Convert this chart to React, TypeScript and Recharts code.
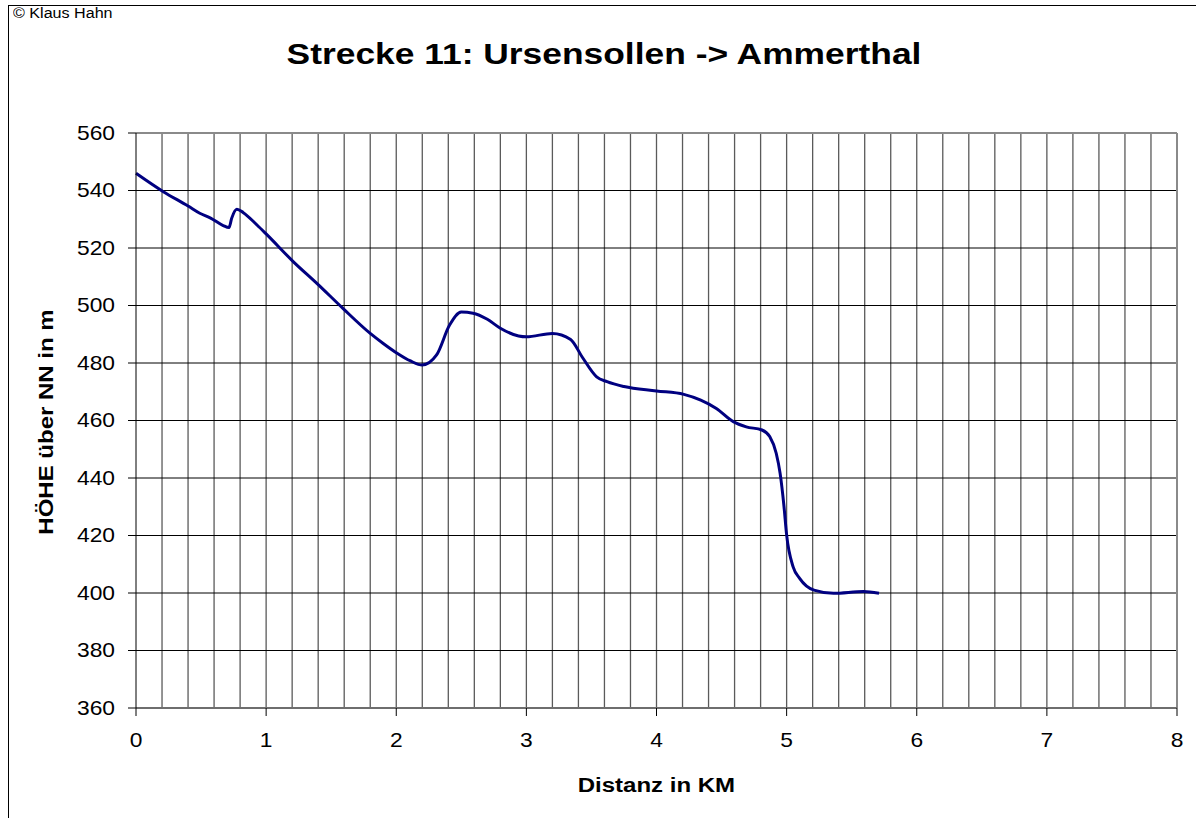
import React from 'react';
import { LineChart, Line, XAxis, YAxis, CartesianGrid, ReferenceLine } from 'recharts';

const distanceKm = [
  0, 0.21, 0.4, 0.49, 0.57, 0.67, 0.715, 0.735, 0.775, 0.825, 0.93, 1.0, 1.21, 1.39, 1.59, 1.8, 1.9, 2.0,
  2.11, 2.2, 2.31, 2.41, 2.5, 2.59, 2.7, 2.8, 2.94, 3.0, 3.2, 3.34, 3.43, 3.54, 3.62, 3.75, 4.0, 4.21,
  4.34, 4.46, 4.59, 4.69, 4.81, 4.87, 4.92, 4.95, 4.98, 5.0, 5.05, 5.1, 5.21, 5.36, 5.59, 5.71,
];
const heightM = [
  546, 539.6, 534.6, 532.1, 530.5, 527.8, 527.1, 530.3, 533.5, 532.3, 528, 524.9, 515.2, 507.7, 499.0, 490.3,
  486.8, 483.6, 480.7, 479.3, 482.8, 493.2, 497.7, 497.3, 495.2, 492.1, 489.4, 489.1, 490.3, 488.2, 482.0,
  475.2, 473.5, 471.8, 470.3, 469.1, 467.1, 464.2, 459.6, 457.8, 456.7, 454.4, 448.6, 441.6, 430, 420.2,
  409.1, 405.1, 401.0, 399.9, 400.5, 399.9,
];

const xTicks = [0, 1, 2, 3, 4, 5, 6, 7, 8];
const yTicks = [360, 380, 400, 420, 440, 460, 480, 500, 520, 540, 560];
const innerY = [380, 400, 420, 440, 460, 480, 500, 520, 540];
const gridX = [
  0.2, 0.4, 0.6, 0.8, 1, 1.2, 1.4, 1.6, 1.8, 2, 2.2, 2.4, 2.6, 2.8, 3, 3.2, 3.4, 3.6, 3.8, 4,
  4.2, 4.4, 4.6, 4.8, 5, 5.2, 5.4, 5.6, 5.8, 6, 6.2, 6.4, 6.6, 6.8, 7, 7.2, 7.4, 7.6, 7.8,
];

const data = distanceKm.map((d, i) => ({ km: d, hoehe: heightM[i] }));

const FONT = '"Liberation Sans", Arial, sans-serif';

// the original renders its text a bit wider than Arial
const YTick = ({ x, y, payload }: any) => (
  <text transform={`translate(${x},${y}) scale(1.14,1)`} textAnchor="end" dominantBaseline="central"
    fill="#000" fontSize={20} fontFamily={FONT}>
    {payload.value}
  </text>
);

const XTick = ({ x, y, payload }: any) => (
  <text transform={`translate(${x},${y}) scale(1.14,1)`} textAnchor="middle" dy="0.71em"
    fill="#000" fontSize={20} fontFamily={FONT}>
    {payload.value}
  </text>
);

export default function App() {
  return (
    <div style={{ position: 'absolute', left: 0, top: 0, width: 1196, height: 818, background: '#fff', fontFamily: FONT, overflow: 'hidden' }}>
      {/* Rahmen */}
      <div style={{ position: 'absolute', left: 8, top: 5, width: 1200, height: 830, border: '1px solid #000', boxSizing: 'border-box' }} />
      <div style={{ position: 'absolute', left: 13, top: 5, fontSize: 14, color: '#000', transform: 'scaleX(1.15)', transformOrigin: 'left top', whiteSpace: 'nowrap' }}>
        © Klaus Hahn
      </div>
      <div style={{ position: 'absolute', left: 0, width: 1208, top: 38, textAlign: 'center', fontSize: 29, fontWeight: 'bold', color: '#000', transform: 'scaleX(1.22)', transformOrigin: '604px 0' }}>
        Strecke 11: Ursensollen -&gt; Ammerthal
      </div>
      <div style={{ position: 'absolute', left: 136, width: 1041, top: 774, textAlign: 'center', fontSize: 20, fontWeight: 'bold', color: '#000', transform: 'scaleX(1.2)', transformOrigin: '521px 0' }}>
        Distanz in KM
      </div>
      <div
        style={{
          position: 'absolute', left: 46, top: 422, transform: 'translate(-50%, -50%) rotate(-90deg) scaleX(1.2)',
          whiteSpace: 'nowrap', fontSize: 20, fontWeight: 'bold', color: '#000',
        }}
      >
        HÖHE über NN in m
      </div>

      <div style={{ position: 'absolute', left: 0, top: 0 }}>
        <LineChart width={1196} height={818} data={data} margin={{ top: 133, right: 19, bottom: 0, left: 0 }}>
          <CartesianGrid horizontal={false} verticalValues={gridX} stroke="#5a5a5a" strokeWidth={1.3} />
          <CartesianGrid vertical={false} horizontalValues={innerY} stroke="#000" strokeWidth={1} />
          <ReferenceLine y={560} stroke="#8a8a8a" strokeWidth={2} />
          <ReferenceLine x={8} stroke="#8a8a8a" strokeWidth={2} />
          <XAxis
            dataKey="km"
            type="number"
            domain={[0, 8]}
            ticks={xTicks}
            height={110}
            tickSize={8}
            tickMargin={17}
            axisLine={{ stroke: '#6e6e6e', strokeWidth: 2 }}
            tickLine={{ stroke: '#000' }}
            tick={<XTick />}
          />
          <YAxis
            type="number"
            domain={[360, 560]}
            ticks={yTicks}
            width={136}
            tickSize={8}
            tickMargin={13}
            axisLine={{ stroke: '#000' }}
            tickLine={{ stroke: '#000' }}
            tick={<YTick />}
            interval={0}
          />
          <Line
            type="monotone"
            dataKey="hoehe"
            stroke="#000080"
            strokeWidth={3}
            dot={false}
            isAnimationActive={false}
          />
        </LineChart>
      </div>
    </div>
  );
}
